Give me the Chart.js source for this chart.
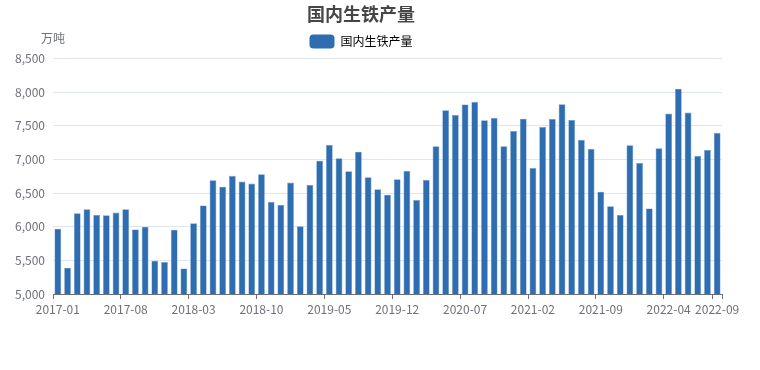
<!DOCTYPE html>
<html>
<head>
<meta charset="utf-8">
<script src="https://cdn.jsdelivr.net/npm/chart.js@4/dist/chart.umd.min.js"></script>
<style>
  html, body { margin: 0; padding: 0; background: #ffffff; }
  #wrap { width: 760px; height: 370px; position: relative; }
</style>
</head>
<body>
<div id="wrap"><canvas id="c" width="760" height="370"></canvas></div>
<script>
const chartTitle = '国内生铁产量';
const seriesName = '国内生铁产量';
const unitLabel = '万吨';

const months = [
  '2017-01','2017-02','2017-03','2017-04','2017-05','2017-06','2017-07','2017-08','2017-09','2017-10','2017-11','2017-12',
  '2018-01','2018-02','2018-03','2018-04','2018-05','2018-06','2018-07','2018-08','2018-09','2018-10','2018-11','2018-12',
  '2019-01','2019-02','2019-03','2019-04','2019-05','2019-06','2019-07','2019-08','2019-09','2019-10','2019-11','2019-12',
  '2020-01','2020-02','2020-03','2020-04','2020-05','2020-06','2020-07','2020-08','2020-09','2020-10','2020-11','2020-12',
  '2021-01','2021-02','2021-03','2021-04','2021-05','2021-06','2021-07','2021-08','2021-09','2021-10','2021-11','2021-12',
  '2022-01','2022-02','2022-03','2022-04','2022-05','2022-06','2022-07','2022-08','2022-09'
];

const output = [
  5970, 5390, 6200, 6260, 6175, 6170, 6210, 6260, 5960, 6000, 5495, 5475,
  5955, 5380, 6050, 6315, 6690, 6595, 6755, 6670, 6640, 6780, 6370, 6325,
  6655, 6005, 6620, 6980, 7215, 7015, 6825, 7115, 6735, 6555, 6475, 6705,
  6830, 6395, 6695, 7195, 7730, 7660, 7815, 7855, 7580, 7615, 7195, 7420,
  7605, 6870, 7480, 7600, 7820, 7585, 7290, 7155, 6520, 6305, 6175, 7210,
  6945, 6270, 7165, 7680, 8050, 7695, 7050, 7140, 7395
];

const shownXTicks = ['2017-01','2017-08','2018-03','2018-10','2019-05','2019-12','2020-07','2021-02','2021-09','2022-04','2022-09'];

const yMin = 5000, yMax = 8500, yStep = 500;

const FONT = '"Noto Sans CJK SC", "Noto Sans", sans-serif';
const AXIS_COLOR = '#6E7079';

const unitPlugin = {
  id: 'unitLabel',
  afterDraw(chart) {
    const ctx = chart.ctx;
    const x = chart.chartArea.left;
    ctx.save();
    ctx.font = '12px ' + FONT;
    ctx.fillStyle = AXIS_COLOR;
    ctx.textAlign = 'center';
    ctx.textBaseline = 'middle';
    ctx.fillText(unitLabel, x, chart.chartArea.top - 20);
    ctx.restore();
  }
};

new Chart(document.getElementById('c'), {
  type: 'bar',
  data: {
    labels: months,
    datasets: [{
      label: seriesName,
      data: output,
      backgroundColor: '#2D6DB0',
      borderColor: '#6f9bd0',
      borderWidth: 0.6,
      barPercentage: 0.7,
      categoryPercentage: 1.0
    }]
  },
  options: {
    responsive: false,
    animation: false,
    events: [],
    layout: { padding: { top: 0, right: 38, bottom: 36, left: 0 } },
    plugins: {
      title: {
        display: true,
        text: chartTitle,
        color: '#464646',
        font: { family: FONT, size: 18, weight: 'bold', lineHeight: 0.8 },
        padding: { top: 7, bottom: 0 }
      },
      legend: {
        display: true,
        labels: {
          boxWidth: 25,
          boxHeight: 14,
          padding: 13,
          color: '#333333',
          useBorderRadius: true,
          borderRadius: 4,
          font: { family: FONT, size: 12 },
          generateLabels(chart) {
            const ds = chart.data.datasets[0];
            return [{
              text: ds.label,
              fillStyle: ds.backgroundColor,
              strokeStyle: ds.backgroundColor,
              lineWidth: 0,
              hidden: false,
              datasetIndex: 0,
              borderRadius: 4
            }];
          }
        }
      },
      tooltip: { enabled: false }
    },
    scales: {
      x: {
        type: 'category',
        offset: true,
        afterFit(scale) { scale.height = 40; },
        grid: {
          display: true,
          offset: true,
          drawOnChartArea: false,
          drawTicks: true,
          tickLength: 5,
          color(ctx) {
            if (ctx.index === undefined) return AXIS_COLOR;
            const lab = months[ctx.index];
            return shownXTicks.includes(lab) ? AXIS_COLOR : 'rgba(0,0,0,0)';
          }
        },
        border: { display: true, color: AXIS_COLOR, width: 1 },
        ticks: {
          autoSkip: false,
          maxRotation: 0,
          minRotation: 0,
          padding: 3,
          color: AXIS_COLOR,
          font: { family: FONT, size: 12 },
          callback(value, index) {
            const lab = months[index];
            return shownXTicks.includes(lab) ? lab : '';
          }
        }
      },
      y: {
        min: yMin,
        max: yMax,
        afterFit(scale) { scale.width = 53; },
        grid: { color: '#E0E6F1', drawTicks: false, lineWidth: 1 },
        border: { display: false },
        ticks: {
          stepSize: yStep,
          padding: 8,
          color: AXIS_COLOR,
          font: { family: FONT, size: 12 },
          callback(v) { return Number(v).toLocaleString('en-US'); }
        }
      }
    }
  },
  plugins: [unitPlugin]
});
</script>
</body>
</html>
